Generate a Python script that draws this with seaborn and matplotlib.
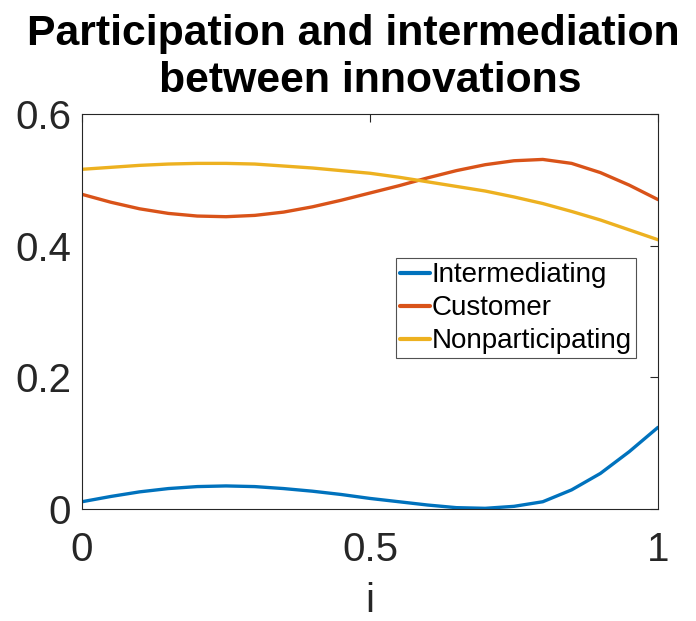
import numpy as np
import pandas as pd
import matplotlib
matplotlib.use("Agg")
import matplotlib.pyplot as plt
import seaborn as sns

x_vals = [0.0, 0.05, 0.1, 0.15, 0.2, 0.25, 0.3, 0.35, 0.4, 0.45, 0.5,
          0.55, 0.6, 0.65, 0.7, 0.75, 0.8, 0.85, 0.9, 0.95, 1.0]
intermediating = [0.011, 0.019, 0.026, 0.031, 0.034, 0.035, 0.034, 0.031, 0.027, 0.022, 0.016,
                  0.011, 0.006, 0.002, 0.001, 0.004, 0.011, 0.029, 0.054, 0.087, 0.124]
customer = [0.478, 0.466, 0.456, 0.449, 0.445, 0.444, 0.446, 0.451, 0.459, 0.469, 0.480,
            0.491, 0.503, 0.514, 0.523, 0.529, 0.531, 0.525, 0.511, 0.492, 0.470]
nonparticipating = [0.516, 0.519, 0.522, 0.524, 0.525, 0.525, 0.524, 0.521, 0.518, 0.514, 0.510,
                    0.504, 0.497, 0.490, 0.483, 0.474, 0.464, 0.452, 0.439, 0.424, 0.409]
series_names = ["Intermediating", "Customer", "Nonparticipating"]
colors = ["#0072BD", "#D95319", "#EDB120"]
xticks = [0, 0.5, 1]
xtick_labels = ["0", "0.5", "1"]
yticks = [0, 0.2, 0.4, 0.6]
ytick_labels = ["0", "0.2", "0.4", "0.6"]
title_lines = ["Participation and intermediation", "between innovations"]

df = pd.DataFrame({
    "i": x_vals * 3,
    "value": intermediating + customer + nonparticipating,
    "series": [series_names[0]] * len(x_vals) + [series_names[1]] * len(x_vals) + [series_names[2]] * len(x_vals),
})

sns.set_style("white")
plt.rcParams["font.family"] = ["Liberation Sans", "DejaVu Sans"]

fig = plt.figure(figsize=(6.96, 6.21), dpi=100)
ax = fig.add_axes([0.1178, 0.1804, 0.8276, 0.636])
sns.lineplot(data=df, x="i", y="value", hue="series", hue_order=series_names,
             palette=colors, linewidth=2.4, ax=ax)

ax.set_xlim(0, 1)
ax.set_ylim(0, 0.6)
ax.set_xticks(xticks)
ax.set_xticklabels(xtick_labels)
ax.set_yticks(yticks)
ax.set_yticklabels(ytick_labels)
ax.tick_params(axis="both", direction="in", length=6, width=0.8, colors="#262626",
               labelsize=29, top=True, right=True)
ax.tick_params(axis="y", pad=8)
ax.tick_params(axis="x", pad=16)
for s in ax.spines.values():
    s.set_color("#262626")
    s.set_linewidth(0.8)
ax.set_xlabel("i", fontsize=29, color="#262626", labelpad=9)
ax.set_ylabel("")

# Two-line bold title (first line shifted left to fit within the figure, as in the reference)
fig.text(353.5 / 696, (621 - 45) / 621, title_lines[0], ha="center", va="baseline",
         fontsize=30.8, fontweight="bold", color="black")
fig.text(370 / 696, (621 - 92) / 621, title_lines[1], ha="center", va="baseline",
         fontsize=30.8, fontweight="bold", color="black")

leg = ax.legend(loc="upper right", bbox_to_anchor=(0.962, 0.635), fontsize=20,
                frameon=True, fancybox=False, handlelength=1.1, handletextpad=0.05,
                borderpad=0.15, labelspacing=0.25, borderaxespad=0)
leg.get_frame().set_edgecolor("#262626")
leg.get_frame().set_linewidth(0.8)
for line in leg.get_lines():
    line.set_linewidth(3)
for t in leg.get_texts():
    t.set_color("black")

fig.savefig("out.png", dpi=100)
